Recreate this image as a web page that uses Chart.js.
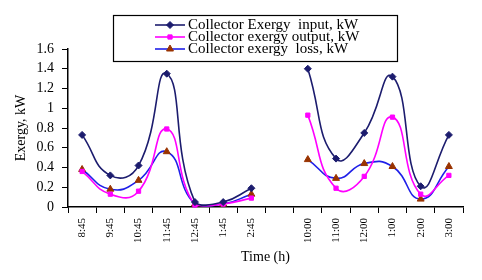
<!DOCTYPE html>
<html>
<head>
<meta charset="utf-8">
<script src="https://cdn.jsdelivr.net/npm/chart.js@4.4.1/dist/chart.umd.min.js"></script>
<style>
  html, body { margin: 0; padding: 0; background: #ffffff; }
  #wrap { position: relative; width: 482px; height: 280px; }
</style>
</head>
<body>
<div id="wrap"><canvas id="c" width="482" height="280"></canvas></div>
<script>
// Categories (blank slot separates the two days)
const timeLabels = ['8:45', '9:45', '10:45', '11:45', '12:45', '1:45', '2:45', '', '10:00', '11:00', '12:00', '1:00', '2:00', '3:00'];
// Series values (kW)
const exergyInput  = [0.73, 0.32, 0.42, 1.35, 0.05, 0.05, 0.19, null, 1.40, 0.49, 0.75, 1.32, 0.21, 0.73];
const exergyOutput = [0.36, 0.13, 0.16, 0.79, 0.02, 0.03, 0.09, null, 0.93, 0.19, 0.31, 0.91, 0.13, 0.32];
const exergyLoss   = [0.38, 0.18, 0.27, 0.56, 0.03, 0.03, 0.13, null, 0.48, 0.29, 0.44, 0.41, 0.08, 0.41];
// Tick values for the y axis
const yTicks = [0, 0.2, 0.4, 0.6, 0.8, 1, 1.2, 1.4, 1.6];
const seriesNames = ['Collector Exergy  input, kW', 'Collector exergy output, kW', 'Collector exergy  loss, kW'];

const serif = "'Liberation Serif', 'DejaVu Serif', serif";

const boxLegend = {
  id: 'boxLegend',
  afterDraw(chart) {
    const ctx = chart.ctx;
    const x0 = 113, y0 = 15, w = 284, h = 46;
    ctx.save();
    ctx.fillStyle = '#ffffff';
    ctx.fillRect(x0, y0, w, h);
    ctx.strokeStyle = '#000000';
    ctx.lineWidth = 1.2;
    ctx.strokeRect(x0 + 0.5, y0 + 0.5, w, h);
    const rows = [25, 37, 49];
    chart.data.datasets.forEach((ds, i) => {
      const y = rows[i];
      ctx.strokeStyle = ds.borderColor;
      ctx.lineWidth = 1.6;
      ctx.beginPath();
      ctx.moveTo(155, y);
      ctx.lineTo(185, y);
      ctx.stroke();
      ctx.fillStyle = ds.pointBackgroundColor;
      ctx.strokeStyle = ds.pointBorderColor;
      ctx.lineWidth = 1;
      Chart.helpers.drawPoint(ctx, {
        pointStyle: ds.pointStyle,
        radius: ds.pointRadius,
        borderWidth: 1,
        rotation: 0
      }, 170, y);
      ctx.fillStyle = '#000000';
      ctx.font = "15px " + serif;
      ctx.textBaseline = 'middle';
      ctx.textAlign = 'left';
      ctx.fillText(seriesNames[i], 188, y + 0.5);
    });
    ctx.restore();
  }
};

new Chart(document.getElementById('c'), {
  type: 'line',
  data: {
    labels: timeLabels,
    datasets: [
      {
        label: seriesNames[0],
        data: exergyInput,
        borderColor: '#1c1c6e',
        borderWidth: 1.6,
        pointStyle: 'rectRot',
        pointRadius: 3.5,
        pointBackgroundColor: '#1c1c6e',
        pointBorderColor: '#1c1c6e',
        pointBorderWidth: 1,
        tension: 0.5,
        spanGaps: false,
        clip: 6
      },
      {
        label: seriesNames[1],
        data: exergyOutput,
        borderColor: '#ff00ff',
        borderWidth: 1.6,
        pointStyle: 'rect',
        pointRadius: 3,
        pointBackgroundColor: '#ff00ff',
        pointBorderColor: '#ff00ff',
        pointBorderWidth: 1,
        tension: 0.5,
        spanGaps: false,
        clip: 6
      },
      {
        label: seriesNames[2],
        data: exergyLoss,
        borderColor: '#1f1fe8',
        borderWidth: 1.6,
        pointStyle: 'triangle',
        pointRadius: 4,
        pointBackgroundColor: '#993300',
        pointBorderColor: '#993300',
        pointBorderWidth: 1,
        tension: 0.5,
        spanGaps: false,
        clip: 6
      }
    ]
  },
  options: {
    responsive: false,
    animation: false,
    devicePixelRatio: 1,
    layout: { padding: { top: 49, right: 19, left: 0, bottom: 0 } },
    plugins: {
      legend: { display: false },
      tooltip: { enabled: false }
    },
    scales: {
      x: {
        type: 'category',
        offset: true,
        afterFit(scale) { scale.height = 73; },
        grid: {
          display: true,
          drawOnChartArea: false,
          offset: true,
          tickLength: 6,
          color: '#000000',
          lineWidth: 1
        },
        border: { display: true, color: '#000000', width: 1.5 },
        ticks: {
          autoSkip: false,
          minRotation: 90,
          maxRotation: 90,
          padding: 5,
          color: '#000000',
          font: { family: serif, size: 11 }
        },
        title: {
          display: true,
          text: 'Time (h)',
          color: '#000000',
          font: { family: serif, size: 14 },
          padding: { top: 0, bottom: 14 }
        }
      },
      y: {
        min: 0,
        max: 1.6,
        afterFit(scale) { scale.width = 68; },
        afterBuildTicks(scale) { scale.ticks = yTicks.map(v => ({ value: v })); },
        grid: {
          display: true,
          drawOnChartArea: false,
          tickLength: 6,
          color: '#000000',
          lineWidth: 1
        },
        border: { display: true, color: '#000000', width: 1.5 },
        ticks: {
          autoSkip: false,
          stepSize: 0.2,
          padding: 8,
          color: '#000000',
          font: { family: serif, size: 14 },
          callback: (v) => String(Math.round(v * 10) / 10)
        },
        title: {
          display: true,
          text: 'Exergy, kW',
          color: '#000000',
          font: { family: serif, size: 14 },
          padding: { top: 13, bottom: 0 }
        }
      }
    }
  },
  plugins: [boxLegend]
});
</script>
</body>
</html>
